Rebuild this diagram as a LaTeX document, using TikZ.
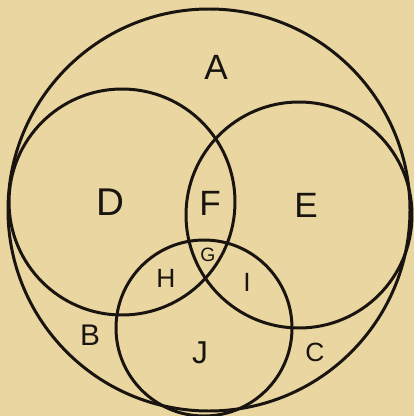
\documentclass[tikz,border=0pt]{standalone}
\usepackage{fontspec}
\setmainfont{Liberation Sans}
\usepackage{xcolor}
\usepackage{tikz}
\usetikzlibrary{backgrounds}
\definecolor{paper}{RGB}{233,214,160}
\definecolor{ink}{RGB}{25,20,15}
\tikzset{
  ring/.style  ={draw=ink,line width=1.7pt},
  lab/.style   ={text=ink,inner sep=0pt,font=\fontsize{20}{20}\selectfont},
  smalllab/.style={text=ink,inner sep=0pt,font=\fontsize{13}{13}\selectfont},
}
\begin{document}
\begin{tikzpicture}[x=0.02cm,y=-0.02cm]
  \fill[paper] (0,0) rectangle (414,416);
  \useasboundingbox (0,0) rectangle (414,416);
  % outer class and the three inner ones
  \draw[ring] (209,210) circle (201);
  \draw[ring] (122,202) circle (113);
  \draw[ring] (299,215) circle (113);
  \draw[ring] (204,328) circle (88);
  % region letters
  \node[lab] (A) at (216,67) {A};
  \node[lab,font=\fontsize{22}{22}\selectfont] (D) at (110,202) {D};
  \node[lab] (F) at (210,203) {F};
  \node[lab] (E) at (306,205) {E};
  \node[smalllab,font=\fontsize{11}{11}\selectfont] (G) at (208,255) {G};
  \node[smalllab,font=\fontsize{15}{15}\selectfont] (H) at (166,278) {H};
  \node[smalllab,font=\fontsize{15}{15}\selectfont] (I) at (247,282) {I};
  \node[lab,font=\fontsize{17}{17}\selectfont] (B) at (90,335) {B};
  \node[lab,font=\fontsize{18}{18}\selectfont] (J) at (200,353) {J};
  \node[smalllab,font=\fontsize{15}{15}\selectfont] (C) at (315,352) {C};
\end{tikzpicture}
\end{document}
